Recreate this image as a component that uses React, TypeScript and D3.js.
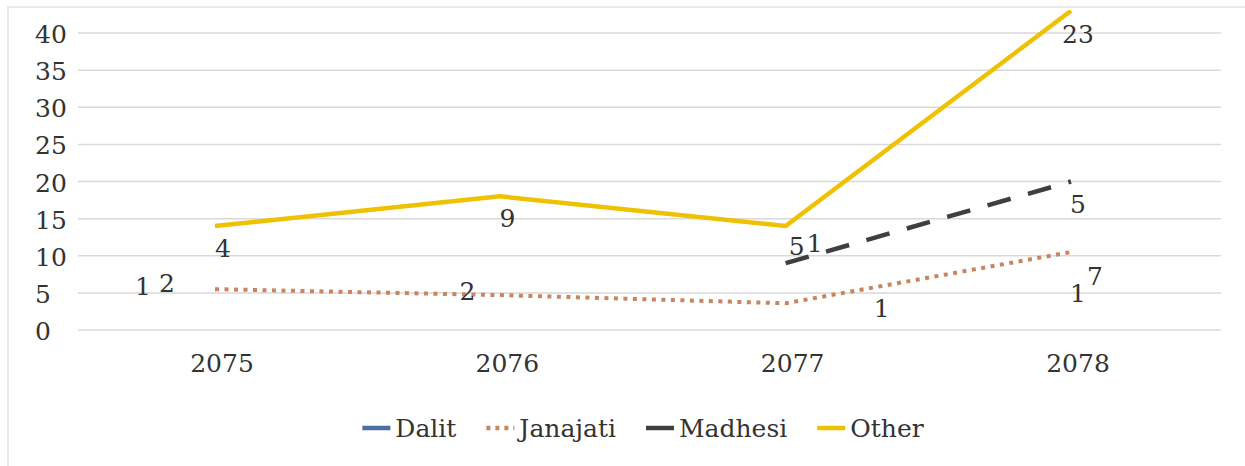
import { useEffect, useRef } from 'react';
import * as d3 from 'd3';

const categories = ['2075', '2076', '2077', '2078'];

// line positions (Dalit has no visible line)
const dalitValues: (number | null)[] = [null, null, null, null];
const janajatiValues: (number | null)[] = [5.5, 4.7, 3.6, 10.5];
const madhesiValues: (number | null)[] = [null, null, 9, 20];
const otherValues: (number | null)[] = [14, 18, 14, 43];

// data labels as printed
const dalitLabels = ['1', '', '', '1'];
const janajatiLabels = ['2', '2', '1', '7'];
const madhesiLabels = ['', '', '1', '5'];
const otherLabels = ['4', '9', '5', '23'];

const yTicks = [0, 5, 10, 15, 20, 25, 30, 35, 40];

const seriesNames = ['Dalit', 'Janajati', 'Madhesi', 'Other'];

export default function App() {
  const svgRef = useRef<SVGSVGElement>(null);

  useEffect(() => {
    if (!svgRef.current) {
      return;
    }

    const width = 1245;
    const height = 466;
    const font = "'DejaVu Serif', serif";
    const fontSize = 25;
    const textColor = '#333333';

    const svg = d3.select(svgRef.current);
    svg.selectAll('*').remove();
    svg.attr('width', width).attr('height', height).attr('font-family', font);

    svg.append('rect').attr('width', width).attr('height', height).attr('fill', '#ffffff');
    svg
      .append('rect')
      .attr('x', 8)
      .attr('y', 7)
      .attr('width', width + 10)
      .attr('height', height + 10)
      .attr('fill', 'none')
      .attr('stroke', '#e2e2e2')
      .attr('stroke-width', 1.5);

    const gridLeft = 78;
    const gridRight = 1221;

    const x = d3.scalePoint<string>().domain(categories).range([222, 1078]);
    const y = d3.scaleLinear().domain([0, 40]).range([330, 33]);

    // gridlines
    svg
      .append('g')
      .selectAll('line')
      .data(yTicks)
      .enter()
      .append('line')
      .attr('x1', gridLeft)
      .attr('x2', gridRight)
      .attr('y1', (d) => y(d))
      .attr('y2', (d) => y(d))
      .attr('stroke', '#d9d9d9')
      .attr('stroke-width', 1.5);

    // y tick labels (left aligned like the source)
    svg
      .append('g')
      .selectAll('text')
      .data(yTicks)
      .enter()
      .append('text')
      .attr('x', 35)
      .attr('y', (d) => y(d) + 10)
      .text((d) => String(d))
      .attr('font-size', fontSize)
      .attr('fill', textColor);

    // x tick labels
    svg
      .append('g')
      .selectAll('text')
      .data(categories)
      .enter()
      .append('text')
      .attr('x', (d) => x(d) ?? 0)
      .attr('y', 372)
      .attr('text-anchor', 'middle')
      .text((d) => d)
      .attr('font-size', fontSize)
      .attr('fill', textColor);

    svg
      .append('clipPath')
      .attr('id', 'plot-clip')
      .append('rect')
      .attr('x', 0)
      .attr('y', 10)
      .attr('width', width)
      .attr('height', height);

    type Series = {
      name: string;
      values: (number | null)[];
      labels: string[];
      color: string;
      width: number;
      dash: string | null;
      visible: boolean;
    };

    const series: Series[] = [
      { name: 'Dalit', values: dalitValues, labels: dalitLabels, color: '#4a6fa5', width: 4.5, dash: null, visible: false },
      { name: 'Janajati', values: janajatiValues, labels: janajatiLabels, color: '#c98460', width: 4, dash: '4 5.5', visible: true },
      { name: 'Madhesi', values: madhesiValues, labels: madhesiLabels, color: '#3f3f3f', width: 4.5, dash: '24 18', visible: true },
      { name: 'Other', values: otherValues, labels: otherLabels, color: '#efc100', width: 4.5, dash: null, visible: true },
    ];

    // lines sit a few px left of the tick centres in the source
    const lineShift = -7;

    const line = d3
      .line<number | null>()
      .defined((d) => d !== null)
      .x((_d, i) => (x(categories[i]) ?? 0) + lineShift)
      .y((d) => y(d ?? 0));

    const lines = svg.append('g').attr('clip-path', 'url(#plot-clip)');
    series
      .filter((s) => s.visible)
      .forEach((s) => {
        lines
          .append('path')
          .datum(s.values)
          .attr('d', line)
          .attr('fill', 'none')
          .attr('stroke', s.color)
          .attr('stroke-width', s.width)
          .attr('stroke-dasharray', s.dash)
          .attr('stroke-linejoin', 'round');
      });

    // label offsets from (category centre, series point)
    const labelOffsets: Record<string, [number, number][]> = {
      Dalit: [[-79, -35], [0, 0], [0, 0], [0, -28]],
      Janajati: [[-55, 3], [-40, 5], [89, 14], [17, 33]],
      Madhesi: [[0, 0], [0, 0], [22, -11], [0, 31.5]],
      Other: [[1, 31], [0, 30.5], [4, 29], [0, 32]],
    };

    const labelGroup = svg.append('g');
    series.forEach((s) => {
      s.labels.forEach((text, i) => {
        if (!text) {
          return;
        }
        const [dx, dy] = labelOffsets[s.name][i];
        labelGroup
          .append('text')
          .attr('x', (x(categories[i]) ?? 0) + dx)
          .attr('y', y(s.values[i] ?? 0) + dy)
          .attr('text-anchor', 'middle')
          .text(text)
          .attr('font-size', fontSize)
          .attr('fill', textColor);
      });
    });

    // legend
    const legend = svg.append('g');
    const symbolW = 28;
    const symbolGap = 5;
    const itemGap = 30;
    const baseline = 437;
    let cursor = 0;
    const items = seriesNames.map((name) => series.find((s) => s.name === name) as Series);
    items.forEach((s) => {
      const g = legend.append('g').attr('transform', `translate(${cursor},0)`);
      g.append('line')
        .attr('x1', 0)
        .attr('x2', symbolW)
        .attr('y1', baseline - 9)
        .attr('y2', baseline - 9)
        .attr('stroke', s.color)
        .attr('stroke-width', 4.5)
        .attr('stroke-dasharray', s.name === 'Janajati' ? '4 5' : null);
      const t = g
        .append('text')
        .attr('x', symbolW + symbolGap)
        .attr('y', baseline)
        .text(s.name)
        .attr('font-size', fontSize)
        .attr('fill', textColor);
      const w = (t.node() as SVGTextElement).getComputedTextLength();
      cursor += symbolW + symbolGap + w + itemGap;
    });
    const total = cursor - itemGap;
    legend.attr('transform', `translate(${643 - total / 2},0)`);
  }, []);

  return <svg ref={svgRef} style={{ position: 'absolute', left: 0, top: 0, display: 'block' }} />;
}
